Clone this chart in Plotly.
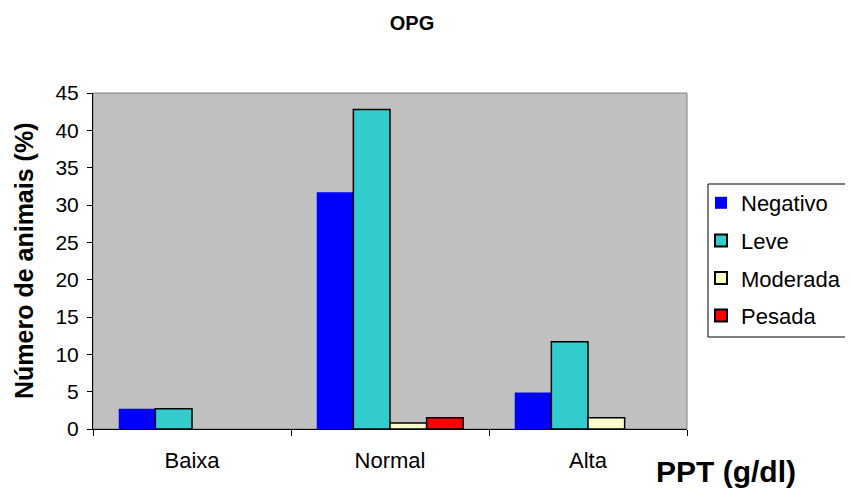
import plotly.graph_objects as go

categorias = ["Baixa", "Normal", "Alta"]
negativo = [2.7, 31.7, 4.9]
leve = [2.7, 42.8, 11.7]
moderada = [None, 0.8, 1.5]
pesada = [None, 1.5, None]

series = [
    ("Negativo", negativo, "#0000FF", 0),
    ("Leve", leve, "#33CCCC", 1.5),
    ("Moderada", moderada, "#FFFFCC", 1.5),
    ("Pesada", pesada, "#FF0000", 1.5),
]

FONT = "Liberation Sans, Arial, sans-serif"

# page body has an 8px margin, so the figure is drawn 8px smaller
W, H = 845, 487
L, T, R, B = 85, 85, 166, 66
pw, ph = W - L - R, H - T - B


def px_x(x):
    return (x - L) / pw


def px_y(y):
    return (H - B - y) / ph


fig = go.Figure()
for nome, vals, cor, lw in series:
    fig.add_trace(go.Bar(
        name=nome, x=categorias, y=vals, legendgroup=nome,
        marker=dict(color=cor, line=dict(color="black", width=lw)),
    ))

fig.update_layout(
    width=W, height=H,
    margin=dict(l=L, r=R, t=T, b=B, autoexpand=False),
    paper_bgcolor="white", plot_bgcolor="#C0C0C0",
    barmode="group", bargap=0.26, bargroupgap=0,
    font=dict(family=FONT, size=22, color="black"),
    title=dict(text="<b>OPG</b>", x=404 / W, y=1 - 15 / H,
               xanchor="center", yanchor="middle",
               font=dict(size=20, family=FONT)),
    legend=dict(x=px_x(693), y=px_y(174), xanchor="left", yanchor="top",
                borderwidth=0, bgcolor="rgba(0,0,0,0)",
                font=dict(size=22), tracegroupgap=6,
                itemsizing="constant"),
    showlegend=True,
)
fig.update_yaxes(range=[0, 45], dtick=5, ticks="outside", ticklen=5,
                 tickcolor="black", showline=True, linecolor="black",
                 linewidth=1, showgrid=False, zeroline=False,
                 tickfont=dict(size=21), ticklabelstandoff=4)
fig.update_xaxes(ticks="outside", ticklen=6, tickson="boundaries",
                 tickcolor="black", showline=True, linecolor="black",
                 linewidth=1, showgrid=False, ticklabelstandoff=12)

# plot area border
fig.add_shape(type="rect", xref="paper", yref="paper", x0=0, x1=1, y0=0, y1=1,
              line=dict(color="#808080", width=1), layer="below")
# legend box
fig.add_shape(type="rect", xref="paper", yref="paper",
              x0=px_x(700), x1=px_x(844), y0=px_y(329), y1=px_y(176),
              line=dict(color="black", width=1), fillcolor="white", layer="above")

fig.add_annotation(text="<b>Número de animais (%)</b>", xref="paper", yref="paper",
                   x=px_x(16), y=0.5, textangle=-90, showarrow=False,
                   xanchor="center", yanchor="middle", font=dict(size=25))
fig.add_annotation(text="<b>PPT (g/dl)</b>", xref="paper", yref="paper",
                   x=px_x(718), y=px_y(463), showarrow=False,
                   xanchor="center", yanchor="middle", font=dict(size=30))

fig.write_html("out.html")
